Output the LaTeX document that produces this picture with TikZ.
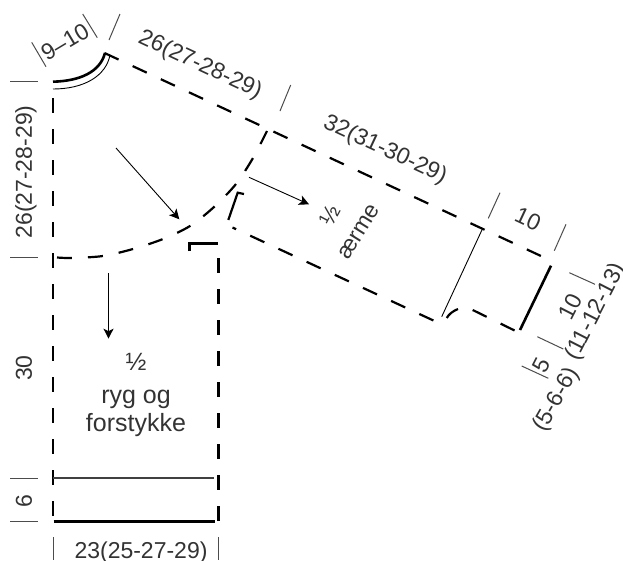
\documentclass[tikz,border=0pt]{standalone}
\usepackage{fontspec}
\setmainfont{Liberation Sans}
\usetikzlibrary{arrows.meta, positioning}
\usepackage{xcolor}
\definecolor{labelgray}{gray}{0.2}

\begin{document}
\begin{tikzpicture}[x=1pt,y=-1pt,
    every node/.style={inner sep=0pt,text=labelgray,font=\fontsize{23}{23}\selectfont},
    bodytext/.style={anchor=base,font=\fontsize{25}{25}\selectfont},
    seam/.style={color=black,line width=2.2pt,dash pattern=on 15pt off 16pt},
    solidedge/.style={color=black,line width=2.6pt},
    fold/.style={color=black,line width=.9pt},
    tick/.style={color=black!70,line width=1pt},
    pointer/.style={-{Stealth[length=10pt,width=10pt,inset=2.5pt]},color=black,line width=.9pt}]

    \useasboundingbox (0,0) rectangle (623,560);

    % body
    \draw[seam] (53,98) -- (53,516);
    \draw[seam,dash pattern=on 14.5pt off 16.5pt] (218.5,258) -- (218.5,523);
    \draw[color=black,line width=2.2pt] (189.5,251) -- (189.5,243.5) -- (217.5,243.5);
    \draw[color=black!75,line width=1.4pt] (53,478) -- (214,478);
    \draw[solidedge] (53.5,521.7) -- (214.5,521.7);

    % neck
    \draw[solidedge] (53,81.7) .. controls (80,81) and (100,72) .. (105,53);
    \draw[fold] (53,89) .. controls (84,89) and (106,76) .. (110,55);

    % armhole
    \draw[seam] plot[smooth] coordinates {(57,257.5) (72,258) (103,256) (133,249) (163,239)
        (190,226) (214,207) (236,184) (253,158) (267,131)};
    \draw[color=black,line width=2.2pt] (228.3,220) -- (237.7,192.7) -- (244,194);

    % sleeve
    \draw[seam,dash pattern=on 15.5pt off 15.55pt] (104.5,53) -- (541,256);
    \draw[seam,dash pattern=on 15.5pt off 15.55pt,dash phase=11.5pt] (232.5,227.5) -- (434.5,321);
    \draw[color=black,line width=2.2pt] (446.7,318) .. controls (449,314) and (453,311) .. (458,309);
    \draw[seam,dash pattern=on 15.5pt off 15.55pt] (472.7,310) -- (515,330.7);
    \draw[fold] (441.7,316.7) -- (482.7,228.3);
    \draw[solidedge] (520,330) -- (551,265.7);

    % direction arrows
    \draw[pointer] (116,148) -- (179.3,219.3);
    \draw[pointer] (108.5,273) -- (108.5,338.7);
    \draw[pointer] (249,177.3) -- (309,204.3);

    % measure ticks
    \foreach \y in {81.7,257.7,478,521.7}
        \draw[tick] (10,\y) -- (38,\y);
    \foreach \x in {53,218.7}
        \draw[tick] (\x,537) -- (\x,560);
    \draw[tick] (31.7,42.3) -- (46,66.7);
    \draw[tick] (82.7,14) -- (97.3,37.7);
    \draw[tick] (120,14) -- (109,40);
    \draw[tick] (290.7,85) -- (280,111);
    \draw[tick] (500,192.7) -- (488.3,218.3);
    \draw[tick] (566,224.3) -- (554.3,250.7);
    \draw[tick] (569.3,272.7) -- (595,284.3);
    \draw[tick] (537.3,336.7) -- (563.3,349);
    \draw[tick] (521.7,366) -- (548.3,378.3);

    % labels
    \node[rotate=31] (neckw) at (65,42) {9–10};
    \node[rotate=-25] (shoulder) at (200,65) {26(27-28-29)};
    \node[rotate=-25] (sleevelen) at (385,150) {32(31-30-29)};
    \node[rotate=-25] (cuffw) at (528,219) {10};
    \node[rotate=90] (armhole) at (26,172) {26(27-28-29)};
    \node[rotate=90] (sidelen) at (24,368) {30};
    \node[rotate=90] (hemh) at (24,500.7) {6};
    \node[anchor=base] (width) at (141,558) {23(25-27-29)};
    \node[bodytext] (bodyhalf) at (136,370) {½};
    \node[bodytext] (bodya) at (136,403.3) {ryg og};
    \node[bodytext] (bodyb) at (136,431.7) {forstykke};
    \node[rotate=62] (sleevehalf) at (330,215) {½};
    \node[rotate=58] (sleevename) at (359,232) {ærme};
    \node[rotate=63] (cuffa) at (570,307) {10};
    \node[rotate=63] (cuffb) at (596,312) {(11-12-13)};
    \node[rotate=63] (cuffc) at (541.7,365) {5};
    \node[rotate=60] (cuffd) at (556.7,400) {(5-6-6)};

\end{tikzpicture}
\end{document}
